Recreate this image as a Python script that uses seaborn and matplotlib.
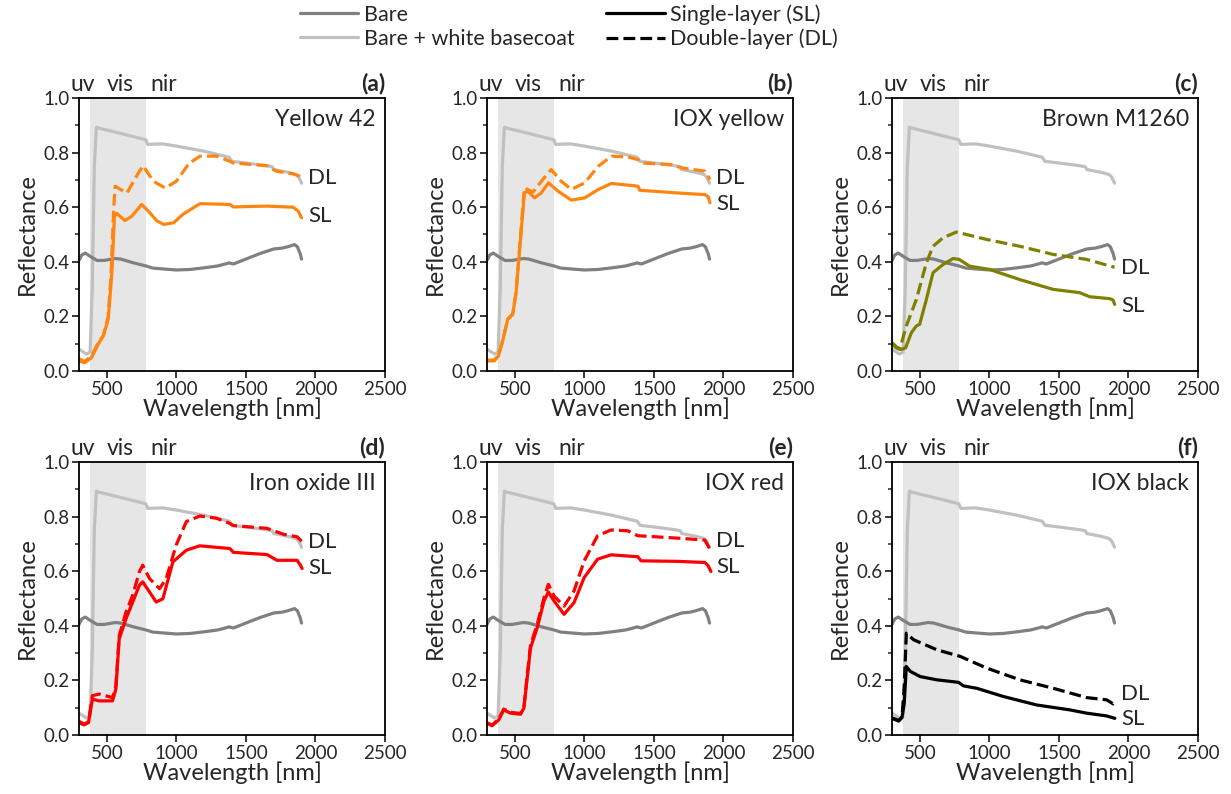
import numpy as np
import pandas as pd
import matplotlib
matplotlib.use("Agg")
import matplotlib.pyplot as plt
from matplotlib.lines import Line2D
from matplotlib.ticker import MultipleLocator
import seaborn as sns

# ---------------- data ----------------
BARE_WL = [300, 320, 345, 380, 430, 480, 560, 600, 700, 780, 830, 900, 1000, 1100, 1200, 1300,
           1380, 1410, 1500, 1600, 1700, 1760, 1800, 1850, 1870, 1890, 1900]
BARE_R = [0.405, 0.425, 0.432, 0.42, 0.405, 0.405, 0.412, 0.41, 0.395, 0.385, 0.377, 0.374, 0.37,
          0.372, 0.378, 0.385, 0.396, 0.392, 0.41, 0.43, 0.447, 0.45, 0.455, 0.463, 0.455, 0.43, 0.41]

WHITE_WL = [300, 330, 355, 380, 395, 410, 425, 440, 600, 780, 795, 900, 1000, 1200, 1380, 1400,
            1500, 1650, 1690, 1700, 1800, 1860, 1880, 1900]
WHITE_R = [0.08, 0.07, 0.062, 0.07, 0.3, 0.75, 0.893, 0.89, 0.87, 0.847, 0.83, 0.832, 0.824, 0.805,
           0.783, 0.768, 0.762, 0.752, 0.748, 0.738, 0.728, 0.72, 0.71, 0.688]

Y42_SL_WL = [300, 340, 390, 440, 475, 510, 535, 555, 572, 630, 680, 750, 800, 860, 910, 980, 1050,
             1170, 1385, 1410, 1650, 1840, 1877, 1900]
Y42_SL_R = [0.037, 0.03, 0.049, 0.10, 0.128, 0.19, 0.35, 0.567, 0.577, 0.551, 0.567, 0.61, 0.585,
            0.55, 0.537, 0.543, 0.575, 0.613, 0.61, 0.601, 0.604, 0.60, 0.585, 0.561]
Y42_DL_WL = [300, 340, 390, 440, 475, 510, 530, 550, 560, 575, 645, 705, 760, 835, 920, 1000, 1090,
             1170, 1290, 1385, 1410, 1650, 1720, 1840, 1880, 1900]
Y42_DL_R = [0.045, 0.035, 0.055, 0.105, 0.13, 0.2, 0.35, 0.6, 0.677, 0.672, 0.652, 0.707, 0.752,
            0.695, 0.67, 0.695, 0.76, 0.787, 0.787, 0.768, 0.762, 0.752, 0.732, 0.722, 0.715, 0.70]

IOXY_SL_WL = [300, 353, 382, 413, 449, 485, 509, 545, 569, 593, 641, 689, 742, 810, 906, 1002, 1100,
              1194, 1385, 1399, 1675, 1867, 1891, 1903]
IOXY_SL_R = [0.037, 0.037, 0.055, 0.11, 0.189, 0.207, 0.287, 0.506, 0.652, 0.659, 0.634, 0.652,
             0.689, 0.659, 0.626, 0.634, 0.665, 0.687, 0.677, 0.662, 0.652, 0.646, 0.638, 0.616]
IOXY_DL_WL = [300, 353, 382, 413, 449, 485, 509, 545, 569, 629, 701, 761, 834, 906, 1002, 1100, 1194,
              1314, 1387, 1411, 1627, 1699, 1867, 1903]
IOXY_DL_R = [0.04, 0.04, 0.058, 0.112, 0.19, 0.21, 0.29, 0.52, 0.671, 0.655, 0.701, 0.738, 0.695,
             0.665, 0.689, 0.75, 0.787, 0.784, 0.774, 0.762, 0.756, 0.744, 0.732, 0.701]

BROWN_SL_WL = [300, 331, 367, 398, 439, 475, 499, 547, 595, 667, 739, 782, 858, 1002, 1218, 1458,
               1649, 1721, 1865, 1889, 1901]
BROWN_SL_R = [0.104, 0.089, 0.079, 0.085, 0.14, 0.165, 0.171, 0.262, 0.36, 0.39, 0.412, 0.409,
              0.384, 0.372, 0.335, 0.299, 0.287, 0.272, 0.265, 0.26, 0.244]
BROWN_DL_WL = [300, 330, 355, 403, 475, 547, 595, 667, 763, 979, 1218, 1458, 1697, 1900]
BROWN_DL_R = [0.10, 0.085, 0.079, 0.165, 0.262, 0.396, 0.457, 0.488, 0.509, 0.482, 0.457, 0.427,
              0.409, 0.38]

FE3_SL_WL = [300, 336, 368, 396, 445, 541, 565, 589, 638, 686, 734, 758, 807, 855, 903, 975, 1072,
             1168, 1385, 1410, 1651, 1723, 1868, 1892, 1904]
FE3_SL_R = [0.045, 0.037, 0.045, 0.131, 0.125, 0.125, 0.168, 0.352, 0.426, 0.487, 0.548, 0.561,
            0.524, 0.487, 0.499, 0.634, 0.677, 0.693, 0.683, 0.669, 0.661, 0.64, 0.64, 0.622, 0.61]
FE3_DL_WL = [300, 336, 368, 396, 445, 541, 565, 589, 638, 686, 734, 758, 807, 879, 927, 999, 1072,
             1168, 1289, 1385, 1410, 1651, 1772, 1868, 1904]
FE3_DL_R = [0.05, 0.04, 0.048, 0.144, 0.15, 0.137, 0.18, 0.364, 0.45, 0.512, 0.598, 0.622, 0.573,
            0.536, 0.573, 0.696, 0.782, 0.802, 0.794, 0.775, 0.767, 0.757, 0.735, 0.726, 0.708]

IOXR_SL_WL = [300, 336, 384, 420, 469, 541, 565, 589, 613, 661, 710, 741, 782, 854, 926, 999, 1095,
              1192, 1384, 1408, 1674, 1866, 1890, 1910]
IOXR_SL_R = [0.043, 0.034, 0.055, 0.092, 0.08, 0.076, 0.098, 0.209, 0.319, 0.393, 0.491, 0.524,
             0.491, 0.442, 0.485, 0.577, 0.644, 0.66, 0.653, 0.638, 0.636, 0.632, 0.62, 0.599]
IOXR_DL_WL = [300, 336, 384, 420, 469, 541, 565, 589, 613, 661, 710, 741, 782, 854, 926, 999, 1095,
              1192, 1312, 1384, 1674, 1866, 1902]
IOXR_DL_R = [0.045, 0.036, 0.058, 0.095, 0.083, 0.079, 0.10, 0.22, 0.33, 0.405, 0.503, 0.552,
             0.509, 0.472, 0.528, 0.638, 0.73, 0.751, 0.748, 0.73, 0.721, 0.714, 0.681]

BLACK_SL_WL = [300, 348, 372, 388, 403, 432, 503, 623, 778, 814, 910, 1101, 1340, 1579, 1699, 1842, 1902]
BLACK_SL_R = [0.061, 0.051, 0.064, 0.116, 0.251, 0.233, 0.214, 0.202, 0.193, 0.18, 0.171, 0.141,
              0.11, 0.092, 0.08, 0.07, 0.061]
BLACK_DL_WL = [300, 348, 372, 388, 403, 455, 623, 790, 981, 1220, 1460, 1699, 1842, 1890, 1902]
BLACK_DL_R = [0.063, 0.053, 0.066, 0.177, 0.373, 0.349, 0.312, 0.288, 0.245, 0.202, 0.171, 0.137,
              0.129, 0.114, 0.122]

PANEL_TAGS = ["(a)", "(b)", "(c)", "(d)", "(e)", "(f)"]
PANEL_NAMES = ["Yellow 42", "IOX yellow", "Brown M1260", "Iron oxide III", "IOX red", "IOX black"]
XTICKS = [500, 1000, 1500, 2000, 2500]
YTICKS = [0.0, 0.2, 0.4, 0.6, 0.8, 1.0]

# ---------------- style ----------------
sns.set_style("ticks")
plt.rcParams["font.family"] = ["Lato", "DejaVu Sans"]
plt.rcParams["axes.linewidth"] = 1.3
plt.rcParams["xtick.major.width"] = 1.3
plt.rcParams["ytick.major.width"] = 1.3
plt.rcParams["ytick.minor.width"] = 1.1
plt.rcParams["xtick.major.size"] = 5
plt.rcParams["ytick.major.size"] = 5
plt.rcParams["ytick.minor.size"] = 3
plt.rcParams["xtick.direction"] = "out"
plt.rcParams["ytick.direction"] = "out"

C_BARE = "#808080"
C_WHITE = "#c0c0c0"
C_ORANGE = "#ff8510"
C_RED = "#ff0000"
C_OLIVE = "#808000"
C_BLACK = "#000000"

panels = [
    (Y42_SL_WL, Y42_SL_R, Y42_DL_WL, Y42_DL_R, C_ORANGE, 0.708, 0.566),
    (IOXY_SL_WL, IOXY_SL_R, IOXY_DL_WL, IOXY_DL_R, C_ORANGE, 0.707, 0.613),
    (BROWN_SL_WL, BROWN_SL_R, BROWN_DL_WL, BROWN_DL_R, C_OLIVE, 0.378, 0.238),
    (FE3_SL_WL, FE3_SL_R, FE3_DL_WL, FE3_DL_R, C_RED, 0.708, 0.61),
    (IOXR_SL_WL, IOXR_SL_R, IOXR_DL_WL, IOXR_DL_R, C_RED, 0.712, 0.617),
    (BLACK_SL_WL, BLACK_SL_R, BLACK_DL_WL, BLACK_DL_R, C_BLACK, 0.15, 0.059),
]

W, H = 1231, 794
fig = plt.figure(figsize=(W / 100, H / 100), dpi=100)

col_left = [79, 487, 892]
row_top = [98, 462]
ax_w, ax_h = 306, 273

LW = 2.3
for i, (slw, slr, dlw, dlr, col, dl_y, sl_y) in enumerate(panels):
    r, c = divmod(i, 3)
    left = col_left[c] / W
    bottom = 1 - (row_top[r] + ax_h) / H
    ax = fig.add_axes([left, bottom, ax_w / W, ax_h / H])
    ax.axvspan(380, 780, color="#e6e6e6", lw=0, zorder=0)
    sns.lineplot(x=WHITE_WL, y=WHITE_R, ax=ax, color=C_WHITE, lw=LW, sort=False, estimator=None)
    sns.lineplot(x=BARE_WL, y=BARE_R, ax=ax, color=C_BARE, lw=LW, sort=False, estimator=None)
    sns.lineplot(x=dlw, y=dlr, ax=ax, color=col, lw=LW, ls="--", sort=False, estimator=None)
    sns.lineplot(x=slw, y=slr, ax=ax, color=col, lw=LW, sort=False, estimator=None)
    ax.set_xlim(300, 2500)
    ax.set_ylim(0, 1.0)
    ax.set_xticks(XTICKS)
    ax.set_yticks(YTICKS)
    ax.set_yticklabels([f"{v:.1f}" for v in YTICKS])
    ax.yaxis.set_minor_locator(MultipleLocator(0.1))
    ax.tick_params(labelsize=13.5, pad=2)
    ax.set_xlabel("Wavelength [nm]", fontsize=17, labelpad=0)
    ax.set_ylabel("Reflectance", fontsize=17, labelpad=4)
    for s in ax.spines.values():
        s.set_visible(True)
        s.set_color("black")
    ax.text(1.0, 1.015, PANEL_TAGS[i], transform=ax.transAxes, ha="right", va="bottom",
            fontsize=16.5, fontweight="bold")
    ax.text(0.97, 0.92, PANEL_NAMES[i], transform=ax.transAxes, ha="right", va="center",
            fontsize=16.5)
    for txt, xv in (("uv", 328), ("vis", 593), ("nir", 907)):
        ax.text(xv, 1.012, txt, transform=ax.get_xaxis_transform(), ha="center",
                va="bottom", fontsize=16.5)
    ax.text(1945, dl_y, "DL", ha="left", va="center", fontsize=16)
    ax.text(1945, sl_y, "SL", ha="left", va="center", fontsize=16)

handles = [
    Line2D([], [], color=C_BARE, lw=LW),
    Line2D([], [], color=C_WHITE, lw=LW),
    Line2D([], [], color=C_BLACK, lw=LW),
    Line2D([], [], color=C_BLACK, lw=LW, ls="--"),
]
labels = ["Bare", "Bare + white basecoat", "Single-layer (SL)", "Double-layer (DL)"]
fig.legend(handles, labels, loc="upper left", bbox_to_anchor=(300 / W, 1 - 4 / H), ncol=2,
           frameon=False, fontsize=15.5, handlelength=2.7, handletextpad=0.25, columnspacing=1.5,
           labelspacing=0.2, borderpad=0, borderaxespad=0)

fig.savefig("out.png", dpi=100)
